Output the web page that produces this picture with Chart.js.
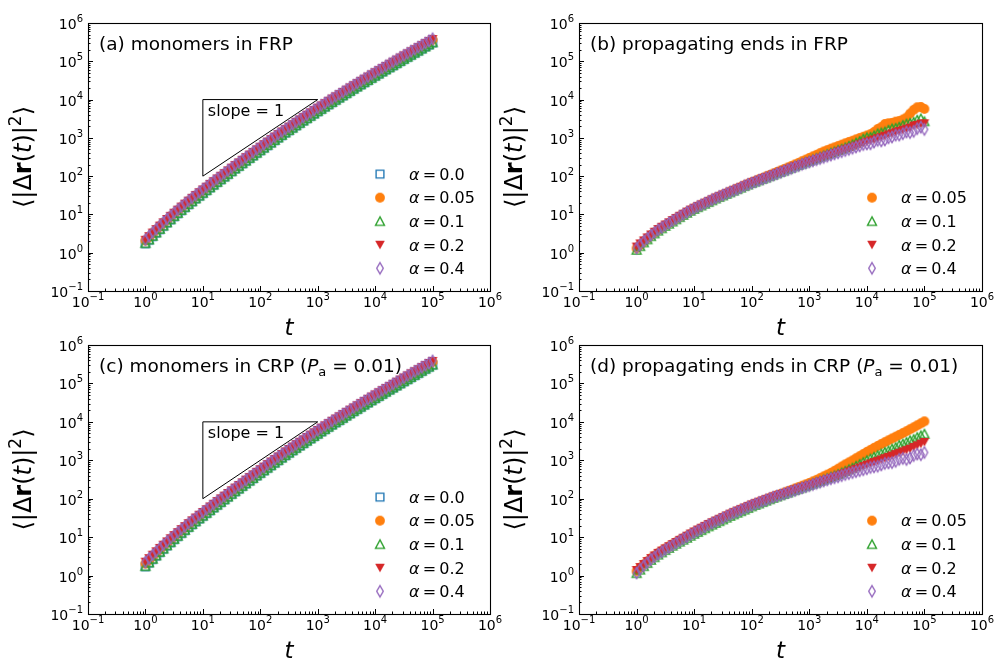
<!DOCTYPE html>
<html>
<head>
<meta charset="utf-8">
<script src="https://cdn.jsdelivr.net/npm/chart.js@4.4.1/dist/chart.umd.min.js"></script>
<style>
  html, body { margin: 0; padding: 0; background: #fff; }
  #fig { position: relative; width: 996px; height: 658px; overflow: hidden; background: #fff; }
  #fig canvas { position: absolute; }
</style>
</head>
<body>
<div id="fig">
  <canvas id="pa" width="520" height="340" style="left:0px;top:0px"></canvas>
  <canvas id="pb" width="505" height="340" style="left:491px;top:0px"></canvas>
  <canvas id="pc" width="520" height="336" style="left:0px;top:322px"></canvas>
  <canvas id="pd" width="505" height="336" style="left:491px;top:322px"></canvas>
</div>
<script>
// ---- time steps (sixteen per decade, 1 .. 1e5) ----
const tSteps = [
  1, 1.1548, 1.3335, 1.5399, 1.7783, 2.0535, 2.3714, 2.7384, 3.1623, 3.6517, 4.2170, 4.8697, 5.6234, 6.4938, 7.4989, 8.6596,
  10, 11.548, 13.335, 15.399, 17.783, 20.535, 23.714, 27.384, 31.623, 36.517, 42.170, 48.697, 56.234, 64.938, 74.989, 86.596,
  100, 115.48, 133.35, 153.99, 177.83, 205.35, 237.14, 273.84, 316.23, 365.17, 421.70, 486.97, 562.34, 649.38, 749.89, 865.96,
  1000, 1154.8, 1333.5, 1539.9, 1778.3, 2053.5, 2371.4, 2738.4, 3162.3, 3651.7, 4217.0, 4869.7, 5623.4, 6493.8, 7498.9, 8659.6,
  10000, 11548, 13335, 15399, 17783, 20535, 23714, 27384, 31623, 36517, 42170, 48697, 56234, 64938, 74989, 86596,
  100000];

// ---- (a) monomers in FRP ----
const frpMonomer00 = [1.72, 2.14, 2.66, 3.27, 4.03, 4.92, 6.00, 7.25, 8.77, 10.5,
  12.6, 15.1, 18.1, 21.4, 25.4, 30.0, 35.4, 41.8, 49.4, 58.2,
  68.5, 80.5, 94.6, 111, 131, 154, 180, 211, 247, 289,
  338, 395, 461, 538, 627, 730, 851, 990, 1152, 1335,
  1548, 1787, 2064, 2383, 2752, 3168, 3646, 4194, 4825, 5541,
  6364, 7298, 8368, 9559, 10920, 12490, 14280, 16320, 18660, 21270,
  24250, 27590, 31390, 35740, 40690, 46240, 52540, 59630, 67680, 76670,
  86860, 98540, 111800, 126700, 143600, 162500, 184000, 208500, 236300, 267300,
  302300];
const frpMonomer005 = [2.08, 2.58, 3.21, 3.96, 4.88, 5.95, 7.26, 8.77, 10.6, 12.7,
  15.3, 18.3, 21.8, 25.9, 30.7, 36.2, 42.8, 50.5, 59.7, 70.3,
  82.8, 97.2, 114, 134, 158, 185, 217, 254, 298, 349,
  409, 477, 557, 650, 758, 883, 1029, 1198, 1394, 1615,
  1872, 2162, 2496, 2882, 3328, 3831, 4410, 5072, 5834, 6701,
  7696, 8825, 10120, 11560, 13210, 15100, 17260, 19740, 22570, 25730,
  29330, 33370, 37960, 43210, 49190, 55910, 63540, 72120, 81850, 92700,
  105000, 119100, 135200, 153200, 173700, 196600, 222600, 252200, 285800, 323200,
  365600];
const frpMonomer01 = [1.78, 2.21, 2.75, 3.38, 4.17, 5.09, 6.21, 7.50, 9.08, 10.9,
  13.1, 15.6, 18.7, 22.1, 26.3, 31.1, 36.7, 43.3, 51.1, 60.2,
  70.8, 83.3, 97.9, 115, 135, 159, 186, 218, 255, 299,
  350, 409, 477, 557, 649, 756, 880, 1025, 1193, 1382,
  1602, 1850, 2136, 2466, 2848, 3279, 3774, 4341, 4993, 5735,
  6586, 7553, 8660, 9894, 11300, 12920, 14770, 16900, 19310, 22020,
  25100, 28560, 32490, 36990, 42100, 47860, 54380, 61720, 70040, 79360,
  89900, 102000, 115700, 131100, 148600, 168200, 190500, 215800, 244600, 276600,
  312900];
const frpMonomer02 = [2.18, 2.71, 3.37, 4.14, 5.11, 6.23, 7.61, 9.19, 11.1, 13.3,
  16.0, 19.1, 22.9, 27.1, 32.2, 38.0, 44.9, 53.0, 62.6, 73.7,
  86.8, 102, 120, 141, 166, 195, 228, 267, 313, 366,
  428, 500, 584, 682, 795, 925, 1078, 1254, 1461, 1691,
  1962, 2264, 2616, 3019, 3488, 4014, 4622, 5313, 6115, 7020,
  8066, 9246, 10600, 12110, 13840, 15820, 18090, 20680, 23630, 26950,
  30740, 34960, 39760, 45280, 51570, 58580, 66590, 75550, 85790, 97140,
  110100, 124900, 141700, 160500, 182000, 205900, 233600, 264200, 299500, 338600,
  383200];
const frpMonomer04 = [2.20, 2.74, 3.40, 4.19, 5.16, 6.30, 7.68, 9.28, 11.2, 13.4,
  16.2, 19.3, 23.1, 27.4, 32.5, 38.4, 45.3, 53.5, 63.1, 74.5,
  87.6, 103, 121, 142, 167, 197, 230, 270, 316, 370,
  432, 506, 590, 689, 802, 934, 1088, 1267, 1474, 1709,
  1980, 2287, 2640, 3050, 3520, 4055, 4664, 5368, 6171, 7092,
  8140, 9342, 10700, 12240, 13970, 15980, 18260, 20890, 23870, 27230,
  31020, 35320, 40150, 45750, 52030, 59180, 67210, 76330, 86570, 98140,
  111100, 126200, 143000, 162200, 183700, 208000, 235400, 266900, 302500, 342100,
  387200];

// ---- (b) propagating ends in FRP ----
const frpEnd005 = [1.30, 1.59, 1.95, 2.36, 2.85, 3.36, 3.95, 4.55, 5.25, 6.00,
  6.85, 7.81, 8.90, 10.1, 11.5, 12.9, 14.5, 16.1, 17.9, 19.8,
  22.0, 24.4, 27.0, 29.7, 32.6, 35.8, 39.3, 43.2, 47.5, 52.2,
  57.3, 62.9, 69.0, 75.2, 82.0, 89.6, 98.0, 107, 117, 128,
  140, 153, 168, 184, 202, 222, 245, 270, 298, 328,
  360, 398, 440, 478, 520, 563, 610, 663, 720, 778,
  840, 912, 990, 1067, 1150, 1250, 1420, 1700, 1900, 2300,
  2400, 2450, 2650, 2750, 3000, 3400, 4300, 5400, 6300, 6400,
  5700];
const frpEnd01 = [1.18, 1.48, 1.85, 2.23, 2.70, 3.18, 3.75, 4.33, 5.00, 5.70,
  6.50, 7.43, 8.50, 9.67, 11.0, 12.4, 13.9, 15.4, 17.1, 19.0,
  21.0, 23.3, 25.9, 28.5, 31.3, 34.4, 37.8, 41.6, 45.7, 50.1,
  55.0, 60.3, 66.1, 71.8, 78.0, 84.7, 92.0, 100, 109, 119,
  129, 140, 153, 166, 181, 196, 213, 231, 251, 272,
  295, 320, 347, 376, 407, 442, 480, 519, 562, 616,
  676, 749, 830, 950, 1030, 1060, 1150, 1300, 1380, 1450,
  1620, 1750, 1820, 1950, 2150, 2350, 2450, 2600, 2950, 3200,
  2700];
const frpEnd02 = [1.45, 1.75, 2.10, 2.51, 3.00, 3.53, 4.15, 4.76, 5.45, 6.22,
  7.10, 8.08, 9.20, 10.4, 11.8, 13.3, 14.9, 16.5, 18.3, 20.2,
  22.4, 24.8, 27.5, 30.2, 33.1, 36.3, 39.8, 43.7, 47.9, 52.5,
  57.5, 63.1, 69.2, 75.0, 81.3, 88.1, 95.5, 103, 112, 122,
  132, 143, 155, 168, 182, 195, 209, 226, 245, 263,
  282, 302, 324, 347, 372, 403, 437, 468, 501, 537,
  575, 623, 676, 733, 794, 851, 912, 977, 1047, 1135,
  1230, 1318, 1413, 1514, 1622, 1738, 1862, 2100, 2188, 2350,
  2399];
const frpEnd04 = [1.32, 1.62, 2.00, 2.40, 2.88, 3.39, 3.98, 4.57, 5.25, 5.99,
  6.84, 7.81, 8.91, 10.1, 11.5, 12.9, 14.5, 16.1, 17.8, 19.7,
  21.9, 24.3, 26.9, 29.5, 32.4, 35.5, 38.9, 42.2, 45.7, 50.7,
  56.2, 61.0, 66.1, 71.6, 77.6, 84.1, 91.2, 98.8, 107, 116,
  126, 137, 148, 160, 174, 188, 204, 218, 234, 251,
  269, 288, 309, 331, 355, 380, 407, 436, 468, 501,
  537, 576, 617, 670, 692, 700, 776, 860, 832, 880,
  1000, 1050, 1175, 1180, 1288, 1420, 1380, 1480, 1738, 1900,
  1660];

// ---- (c) monomers in CRP ----
const crpMonomer00 = [1.70, 2.12, 2.63, 3.23, 3.99, 4.87, 5.94, 7.17, 8.68, 10.4,
  12.5, 14.9, 17.9, 21.2, 25.1, 29.7, 35.0, 41.3, 48.9, 57.6,
  67.8, 79.6, 93.6, 110, 130, 152, 178, 209, 244, 286,
  334, 391, 456, 532, 620, 722, 842, 979, 1140, 1320,
  1532, 1767, 2042, 2357, 2722, 3133, 3607, 4148, 4773, 5480,
  6295, 7218, 8278, 9454, 10800, 12350, 14120, 16140, 18460, 21040,
  23990, 27290, 31050, 35350, 40250, 45730, 51980, 58980, 66950, 75830,
  85930, 97460, 110600, 125300, 142000, 160800, 182000, 206200, 233800, 264300,
  299000];
const crpMonomer005 = [2.05, 2.55, 3.17, 3.92, 4.82, 5.89, 7.18, 8.68, 10.5, 12.6,
  15.1, 18.1, 21.6, 25.6, 30.4, 35.8, 42.4, 50.0, 59.1, 69.6,
  82.0, 96.2, 113, 133, 156, 183, 215, 251, 295, 346,
  405, 472, 552, 644, 751, 874, 1020, 1186, 1381, 1599,
  1855, 2140, 2475, 2853, 3300, 3793, 4370, 5021, 5780, 6634,
  7620, 8737, 10020, 11440, 13080, 14950, 17080, 19540, 22330, 25470,
  29000, 33040, 37550, 42780, 48650, 55350, 62850, 71400, 80950, 91770,
  103800, 117900, 133700, 151700, 171700, 194600, 220000, 249700, 282400, 320000,
  361000];
const crpMonomer01 = [1.76, 2.19, 2.72, 3.35, 4.13, 5.04, 6.15, 7.43, 9.00, 10.8,
  13.0, 15.4, 18.5, 21.9, 26.0, 30.8, 36.3, 42.9, 50.6, 59.6,
  70.1, 82.5, 96.9, 114, 134, 157, 184, 216, 252, 296,
  346, 405, 472, 551, 642, 748, 870, 1015, 1180, 1368,
  1585, 1832, 2113, 2441, 2817, 3246, 3733, 4298, 4940, 5678,
  6515, 7477, 8567, 9795, 11180, 12790, 14610, 16730, 19100, 21800,
  24830, 28270, 32140, 36620, 41650, 47380, 53800, 61100, 69300, 78570,
  88950, 101000, 114500, 129800, 147000, 166500, 188500, 213600, 242000, 273800,
  309500];
const crpMonomer02 = [2.30, 2.84, 3.50, 4.29, 5.25, 6.38, 7.75, 9.36, 11.3, 13.5,
  16.2, 19.3, 23.1, 27.4, 32.4, 38.3, 45.2, 53.3, 62.8, 73.9,
  86.9, 102, 120, 141, 166, 195, 228, 267, 313, 366,
  429, 501, 586, 683, 797, 928, 1080, 1257, 1462, 1696,
  1968, 2275, 2630, 3034, 3500, 4032, 4645, 5340, 6140, 7052,
  8100, 9288, 10650, 12190, 13950, 15930, 18200, 20770, 23700, 27020,
  30800, 35060, 39900, 45420, 51700, 58770, 66800, 75880, 86200, 97730,
  110800, 125700, 142500, 161500, 183000, 207200, 234500, 265700, 301000, 340900,
  386000];
const crpMonomer04 = [2.25, 2.79, 3.45, 4.24, 5.20, 6.33, 7.70, 9.29, 11.2, 13.4,
  16.1, 19.2, 23.0, 27.2, 32.2, 38.1, 45.0, 53.0, 62.5, 73.5,
  86.5, 101, 119, 140, 165, 194, 227, 266, 312, 365,
  427, 499, 583, 680, 793, 923, 1075, 1251, 1455, 1689,
  1960, 2266, 2620, 3024, 3490, 4020, 4630, 5323, 6120, 7032,
  8080, 9254, 10600, 12140, 13900, 15860, 18100, 20670, 23600, 26920,
  30700, 34960, 39800, 45270, 51500, 58570, 66600, 75680, 86000, 97480,
  110500, 125300, 142000, 161000, 182500, 206600, 234000, 265000, 300000, 339900,
  385000];

// ---- (d) propagating ends in CRP ----
const crpEnd005 = [1.30, 1.59, 1.95, 2.34, 2.80, 3.28, 3.85, 4.41, 5.05, 5.73,
  6.50, 7.37, 8.35, 9.41, 10.6, 12.0, 13.5, 15.1, 16.9, 18.9,
  21.2, 23.6, 26.2, 29.0, 32.2, 35.7, 39.5, 43.5, 47.8, 52.4,
  57.5, 63.0, 69.0, 75.0, 81.5, 88.5, 96.0, 104, 113, 123,
  133, 144, 156, 169, 184, 200, 217, 236, 257, 282,
  310, 343, 380, 423, 470, 531, 600, 684, 780, 879,
  990, 1126, 1280, 1453, 1650, 1861, 2100, 2359, 2650, 2957,
  3300, 3678, 4100, 4573, 5100, 5713, 6400, 7200, 8100, 9134,
  10300];
const crpEnd01 = [1.15, 1.42, 1.75, 2.11, 2.55, 2.99, 3.50, 4.01, 4.60, 5.23,
  5.95, 6.72, 7.60, 8.54, 9.60, 10.8, 12.2, 13.6, 15.2, 17.0,
  19.0, 21.1, 23.4, 26.0, 28.8, 32.0, 35.5, 39.1, 43.0, 47.3,
  52.0, 57.2, 63.0, 68.7, 75.0, 81.7, 89.0, 96.7, 105, 114,
  123, 133, 144, 156, 168, 181, 196, 212, 229, 248,
  268, 291, 316, 343, 372, 403, 437, 481, 530, 582,
  640, 716, 800, 894, 1000, 1109, 1230, 1358, 1500, 1643,
  1800, 1990, 2200, 2500, 2700, 2985, 3300, 3550, 4000, 4427,
  4900];
const crpEnd02 = [1.40, 1.67, 2.00, 2.39, 2.85, 3.33, 3.90, 4.46, 5.10, 5.80,
  6.60, 7.49, 8.50, 9.63, 10.9, 12.4, 14.0, 15.7, 17.5, 19.6,
  22.0, 24.4, 27.0, 29.9, 33.1, 36.7, 40.7, 44.7, 49.0, 53.7,
  58.9, 64.6, 70.8, 76.8, 83.2, 90.2, 97.7, 106, 115, 123,
  132, 141, 151, 162, 174, 187, 200, 214, 229, 245,
  263, 282, 302, 324, 347, 372, 398, 432, 470, 508,
  550, 598, 650, 707, 770, 832, 900, 972, 1050, 1136,
  1230, 1335, 1450, 1570, 1700, 1844, 2000, 2214, 2450, 2711,
  3000];
const crpEnd04 = [1.17, 1.46, 1.82, 2.19, 2.63, 3.09, 3.63, 4.17, 4.79, 5.44,
  6.17, 7.07, 8.10, 9.13, 10.3, 11.7, 13.2, 14.8, 16.6, 18.6,
  20.9, 23.2, 25.7, 28.5, 31.6, 35.1, 38.9, 42.7, 46.8, 51.3,
  56.2, 61.6, 67.6, 73.3, 79.4, 86.1, 93.3, 101, 110, 118,
  126, 135, 145, 155, 166, 178, 191, 205, 219, 234,
  251, 269, 288, 309, 331, 351, 372, 399, 427, 452,
  479, 507, 537, 569, 603, 650, 676, 700, 759, 830,
  851, 870, 940, 1060, 1120, 1050, 1150, 1330, 1450, 1400,
  1600];

// ---- axis decades, minor multipliers, slope guide triangle ----
const decadeExps = [-1, 0, 1, 2, 3, 4, 5, 6];
const minorMults = [2, 3, 4, 5, 6, 7, 8, 9];
const slopeGuideT = [10, 10, 1000, 10];
const slopeGuideY = [100, 10000, 10000, 100];

const FONT = '"DejaVu Sans", "Liberation Sans", sans-serif';
const COLORS = { a00: '#1f77b4', a005: '#ff7f0e', a01: '#2ca02c', a02: '#d62728', a04: '#9467bd' };

function markerCanvas(kind, color) {
  const c = document.createElement('canvas');
  c.width = 16; c.height = 16;
  const g = c.getContext('2d');
  const m = 8;
  g.lineWidth = 1.35; g.strokeStyle = color; g.fillStyle = color;
  g.beginPath();
  if (kind === 'square') { g.rect(m - 3.9, m - 3.9, 7.8, 7.8); g.stroke(); }
  else if (kind === 'circle') { g.arc(m, m, 4.9, 0, 2 * Math.PI); g.fill(); }
  else if (kind === 'triUp') { g.moveTo(m, m - 4.4); g.lineTo(m + 4.5, m + 4.1); g.lineTo(m - 4.5, m + 4.1); g.closePath(); g.stroke(); }
  else if (kind === 'triDown') { g.moveTo(m - 4.8, m - 4.0); g.lineTo(m + 4.8, m - 4.0); g.lineTo(m, m + 4.6); g.closePath(); g.fill(); }
  else if (kind === 'diamond') { g.moveTo(m, m - 5.6); g.lineTo(m + 3.3, m); g.lineTo(m, m + 5.6); g.lineTo(m - 3.3, m); g.closePath(); g.stroke(); }
  return c;
}
const MARK = {
  a00: markerCanvas('square', COLORS.a00),
  a005: markerCanvas('circle', COLORS.a005),
  a01: markerCanvas('triUp', COLORS.a01),
  a02: markerCanvas('triDown', COLORS.a02),
  a04: markerCanvas('diamond', COLORS.a04)
};
const ALPHA_LABEL = { a00: '0.0', a005: '0.05', a01: '0.1', a02: '0.2', a04: '0.4' };
const ORDER = { a04: 0, a02: 1, a01: 2, a005: 3, a00: 4 };

function fontStr(s) {
  return (s.italic ? 'italic ' : '') + (s.bold ? 'bold ' : '') + s.size + 'px ' + FONT;
}
function richWidth(ctx, segs) {
  let w = 0;
  for (const s of segs) { ctx.font = fontStr(s); w += ctx.measureText(s.text).width; }
  return w;
}
function drawRich(ctx, segs, x, y) {
  let cx = x;
  for (const s of segs) {
    ctx.font = fontStr(s);
    ctx.fillText(s.text, cx, y + (s.dy || 0));
    cx += ctx.measureText(s.text).width;
  }
}
function powerLabel(e) {
  return [{ text: '10', size: 14 }, { text: e < 0 ? '\u2212' + (-e) : String(e), size: 10, dy: -7 }];
}

const figureDecor = {
  id: 'figureDecor',
  afterDatasetsDraw(chart, args, opts) {
    const ctx = chart.ctx;
    const a = chart.chartArea;
    const xs = chart.scales.x, ys = chart.scales.y;
    ctx.save();
    ctx.fillStyle = '#000';
    ctx.strokeStyle = '#000';
    ctx.textBaseline = 'alphabetic';

    // inward ticks on bottom and left axes
    ctx.lineWidth = 1;
    ctx.beginPath();
    for (const e of decadeExps) {
      const base = Math.pow(10, e);
      const mults = [1].concat(e < 6 ? minorMults : []);
      for (const m of mults) {
        const v = m * base;
        const len = m === 1 ? 5 : 2.5;
        const px = Math.round(xs.getPixelForValue(v)) + 0.5;
        ctx.moveTo(px, a.bottom); ctx.lineTo(px, a.bottom - len);
        const py = Math.round(ys.getPixelForValue(v)) + 0.5;
        ctx.moveTo(a.left, py); ctx.lineTo(a.left + len, py);
      }
    }
    ctx.stroke();

    // axes frame
    ctx.lineWidth = 1.1;
    ctx.strokeRect(Math.round(a.left) + 0.5, Math.round(a.top) + 0.5,
      Math.round(a.right) - Math.round(a.left), Math.round(a.bottom) - Math.round(a.top));

    // decade tick labels
    for (const e of decadeExps) {
      const v = Math.pow(10, e);
      const segs = powerLabel(e);
      const w = richWidth(ctx, segs);
      drawRich(ctx, segs, xs.getPixelForValue(v) - w / 2, a.bottom + 16);
      drawRich(ctx, segs, a.left - 5 - w, ys.getPixelForValue(v) + 6);
    }

    // axis titles
    const tx = [{ text: 't', size: 23, italic: true }];
    const tw = richWidth(ctx, tx);
    drawRich(ctx, tx, (a.left + a.right) / 2 - tw / 2, a.bottom + 44);

    const yl = [
      { text: '\u27E8|\u0394', size: 24 },
      { text: 'r', size: 24, bold: true },
      { text: '(', size: 24 },
      { text: 't', size: 24, italic: true },
      { text: ')|', size: 24 },
      { text: '2', size: 17, dy: -10 },
      { text: '\u27E9', size: 24 }
    ];
    const yw = richWidth(ctx, yl);
    ctx.save();
    ctx.translate(a.left - 57, (a.top + a.bottom) / 2);
    ctx.rotate(-Math.PI / 2);
    drawRich(ctx, yl, -yw / 2, 0);
    ctx.restore();

    // panel title
    drawRich(ctx, opts.title, a.left + 11, a.top + 27);

    // slope annotation inside the guide triangle
    if (opts.slopeNote) {
      drawRich(ctx, [{ text: 'slope = 1', size: 16 }], xs.getPixelForValue(10) + 5, ys.getPixelForValue(10000) + 16.5);
    }

    // legend, lower right
    const keys = opts.legendKeys;
    const n = keys.length;
    keys.forEach((k, i) => {
      const rowY = a.bottom - 22.7 - (n - 1 - i) * 23.55;
      const mk = MARK[k];
      ctx.drawImage(mk, a.right - 110 - mk.width / 2, rowY - mk.height / 2);
      drawRich(ctx, [{ text: '\u03B1', size: 16, italic: true }, { text: '\u2009=\u2009' + ALPHA_LABEL[k], size: 16 }],
        a.right - 81, rowY + 5.8);
    });
    ctx.restore();
  }
};

function series(vals) { return tSteps.map((t, i) => ({ x: t, y: vals[i] })); }

function makePanel(id, seriesMap, title, slopeNote, W, H, top, bottom, left, right) {
  const datasets = [];
  for (const k of Object.keys(seriesMap)) {
    datasets.push({
      label: '\u03B1 = ' + ALPHA_LABEL[k],
      data: series(seriesMap[k]),
      pointStyle: MARK[k],
      pointRadius: 4,
      showLine: false,
      order: ORDER[k] + 1
    });
  }
  if (slopeNote) {
    datasets.push({
      label: 'slope guide',
      data: slopeGuideT.map((t, i) => ({ x: t, y: slopeGuideY[i] })),
      showLine: true,
      borderColor: '#000',
      borderWidth: 1,
      pointRadius: 0,
      fill: false,
      order: 10
    });
  }
  const legendKeys = Object.keys(seriesMap);
  return new Chart(document.getElementById(id), {
    type: 'scatter',
    data: { datasets },
    options: {
      responsive: false,
      animation: false,
      devicePixelRatio: 1,
      events: [],
      layout: { autoPadding: false, padding: { top: top, left: 0, right: W - right, bottom: 0 } },
      plugins: {
        legend: { display: false },
        tooltip: { enabled: false },
        figureDecor: { title, slopeNote, legendKeys }
      },
      scales: {
        x: {
          type: 'logarithmic', min: 0.1, max: 1e6,
          grid: { display: false }, border: { display: false },
          ticks: { display: false },
          afterFit: (s) => { s.height = H - bottom; }
        },
        y: {
          type: 'logarithmic', min: 0.1, max: 1e6,
          grid: { display: false }, border: { display: false },
          ticks: { display: false },
          afterFit: (s) => { s.width = left; }
        }
      }
    },
    plugins: [figureDecor]
  });
}

const T = 18.5;
makePanel('pa', { a00: frpMonomer00, a005: frpMonomer005, a01: frpMonomer01, a02: frpMonomer02, a04: frpMonomer04 },
  [{ text: '(a) monomers in FRP', size: T }], true, 520, 340, 23, 291, 88, 490);
makePanel('pb', { a005: frpEnd005, a01: frpEnd01, a02: frpEnd02, a04: frpEnd04 },
  [{ text: '(b) propagating ends in FRP', size: T }], false, 505, 340, 23, 291, 88, 491);
makePanel('pc', { a00: crpMonomer00, a005: crpMonomer005, a01: crpMonomer01, a02: crpMonomer02, a04: crpMonomer04 },
  [{ text: '(c) monomers in CRP (', size: T }, { text: 'P', size: T, italic: true }, { text: 'a', size: 13, dy: 3.5 }, { text: ' = 0.01)', size: T }],
  true, 520, 336, 23, 292, 88, 490);
makePanel('pd', { a005: crpEnd005, a01: crpEnd01, a02: crpEnd02, a04: crpEnd04 },
  [{ text: '(d) propagating ends in CRP (', size: T }, { text: 'P', size: T, italic: true }, { text: 'a', size: 13, dy: 3.5 }, { text: ' = 0.01)', size: T }],
  false, 505, 336, 23, 292, 88, 491);
</script>
</body>
</html>
